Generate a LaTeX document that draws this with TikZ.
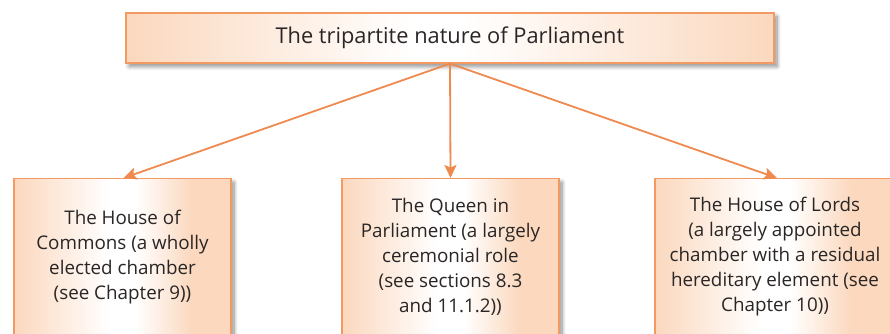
\documentclass[tikz,border=0pt]{standalone}
\usepackage{fontspec}
\setmainfont{Open Sans}
\usetikzlibrary{arrows.meta,shadows.blur}
\definecolor{peach}{HTML}{FBD8BE}
\definecolor{edge}{HTML}{F29A62}
\definecolor{link}{HTML}{EE8A4E}
\definecolor{ink}{HTML}{2A2626}
% horizontal peach band that brightens to white near the centre
\pgfdeclarehorizontalshading{titleband}{100bp}{color(0bp)=(peach); color(25bp)=(peach); color(47bp)=(white); color(51bp)=(white); color(75bp)=(peach); color(100bp)=(peach)}
\pgfdeclarehorizontalshading{itemband}{100bp}{color(0bp)=(peach); color(25bp)=(peach); color(47bp)=(white); color(53bp)=(white); color(66bp)=(peach); color(75bp)=(peach); color(100bp)=(peach)}
\tikzset{
  card/.style={draw=edge, line width=1.2pt, shading=itemband,
    blur shadow={shadow xshift=3pt, shadow yshift=-3.5pt, shadow blur steps=10, shadow opacity=45, shadow blur radius=4pt},
    text=ink, align=center, inner sep=0pt},
  titlecard/.style={card, shading=titleband, minimum width=648pt, minimum height=50pt, font=\fontsize{21.8}{26}\selectfont},
  itemcard/.style={card, anchor=north, minimum width=217pt, minimum height=156pt, font=\fontsize{18.8}{25}\selectfont},
  link/.style={draw=link, line width=1.8pt, -{Stealth[length=13pt,width=12pt,inset=2.5pt]}}
}
\begin{document}
\begin{tikzpicture}[x=1pt,y=-1pt]
  \useasboundingbox (0,0) rectangle (890,333);
  \clip (0,0) rectangle (890,333);
  \node[titlecard] (top) at (450,38) {The tripartite nature of Parliament};
  \node[itemcard] (commons) at (122.5,178) {The House of\\Commons (a wholly\\elected chamber\\(see Chapter 9))};
  \node[itemcard] (queen) at (450.5,178) {The Queen in\\Parliament (a largely\\ceremonial role\\(see sections 8.3\\and 11.1.2))};
  \node[itemcard, minimum width=240pt] (lords) at (775,178) {The House of Lords\\(a largely appointed\\chamber with a residual\\hereditary element (see\\Chapter 10))};
  \path[link] (top.south) -- ([xshift=1pt]commons.north);
  \path[link] (top.south) -- (queen.north);
  \path[link] (top.south) -- ([xshift=2pt]lords.north);
\end{tikzpicture}
\end{document}
